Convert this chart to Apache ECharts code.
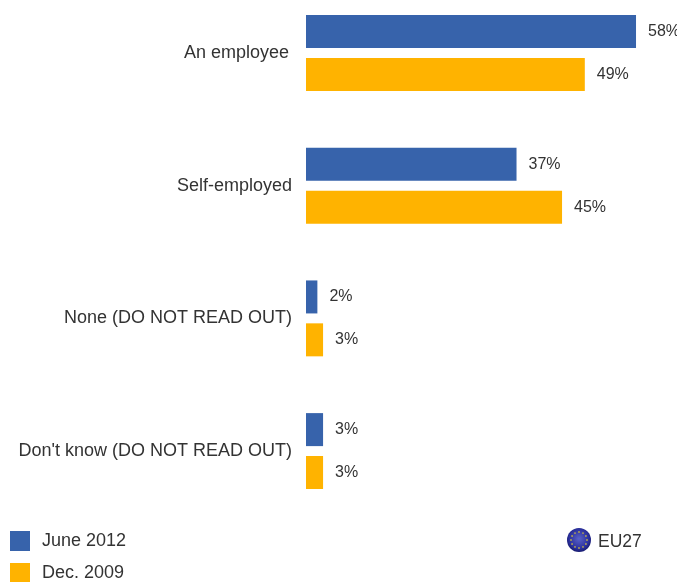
<!DOCTYPE html>
<html>
<head>
<meta charset="utf-8">
<style>html,body{margin:0;padding:0;background:#fff}#chart{width:677px;height:582px}</style>
<script src="https://cdn.jsdelivr.net/npm/echarts@6/dist/echarts.min.js"></script>
</head>
<body>
<div id="chart"></div>
<script>
const categories = ["An employee", "Self-employed", "None (DO NOT READ OUT)", "Don't know (DO NOT READ OUT)"];
const june2012 = [58, 37, 2, 3];
const dec2009 = [49, 45, 3, 3];
const seriesNames = ["June 2012", "Dec. 2009"];
const regionLabel = "EU27";

const FONT = '"Liberation Sans", Arial, sans-serif';
const TEXT = "#333333";

// Twelve gold stars ringed around the flag badge
const starCount = 12;
const stars = [];
for (let i = 0; i < starCount; i++) {
  const a = (i / starCount) * Math.PI * 2;
  stars.push({
    type: "circle",
    shape: { cx: 579 + Math.cos(a) * 8, cy: 540 + Math.sin(a) * 8, r: 0.9 },
    style: { fill: "#b8aa50" },
    z: 12
  });
}

const chart = echarts.init(document.getElementById("chart"), null, { renderer: "canvas" });

function barSeries(name, data, color) {
  return {
    name,
    type: "bar",
    data,
    barWidth: 33,
    barGap: "30%",
    itemStyle: { color },
    label: {
      show: true,
      position: "right",
      distance: 12,
      formatter: "{c}%",
      fontFamily: FONT,
      fontSize: 16,
      color: TEXT,
      padding: [3, 0, 0, 0]
    }
  };
}

function legendEntry(name, top, textPad) {
  return {
    orient: "vertical",
    left: 10,
    top,
    padding: 0,
    itemWidth: 20,
    itemHeight: 20,
    icon: "rect",
    textStyle: { fontFamily: FONT, fontSize: 18, color: TEXT, padding: [textPad, 0, 0, 7] },
    data: [name]
  };
}

chart.setOption({
  animation: false,
  backgroundColor: "#ffffff",
  grid: { left: 306, top: -13.3, width: 341.4, height: 530.7, outerBoundsMode: "none" },
  xAxis: { type: "value", min: 0, max: 60, show: false },
  yAxis: {
    type: "category",
    inverse: true,
    data: categories.map((value, i) => ({
      value,
      textStyle: { padding: [3, i === 0 ? 3 : 0, 0, 0] }
    })),
    axisLine: { show: false },
    axisTick: { show: false },
    axisLabel: { margin: 14, fontFamily: FONT, fontSize: 18, color: TEXT }
  },
  legend: [legendEntry(seriesNames[0], 531, 2), legendEntry(seriesNames[1], 563, 0)],
  series: [
    barSeries(seriesNames[0], june2012, "#3763AB"),
    barSeries(seriesNames[1], dec2009, "#FFB300")
  ],
  graphic: [
    {
      type: "circle",
      shape: { cx: 579, cy: 540, r: 12 },
      style: {
        fill: {
          type: "radial", x: 0.5, y: 0.45, r: 0.6,
          colorStops: [
            { offset: 0, color: "#5a62c8" },
            { offset: 0.7, color: "#2a2f9c" },
            { offset: 1, color: "#10145e" }
          ]
        }
      },
      z: 11
    },
    ...stars,
    {
      type: "text",
      left: 598,
      top: 533,
      style: { text: regionLabel, fontFamily: FONT, fontSize: 17.5, fill: TEXT },
      z: 11
    }
  ]
});
</script>
</body>
</html>
